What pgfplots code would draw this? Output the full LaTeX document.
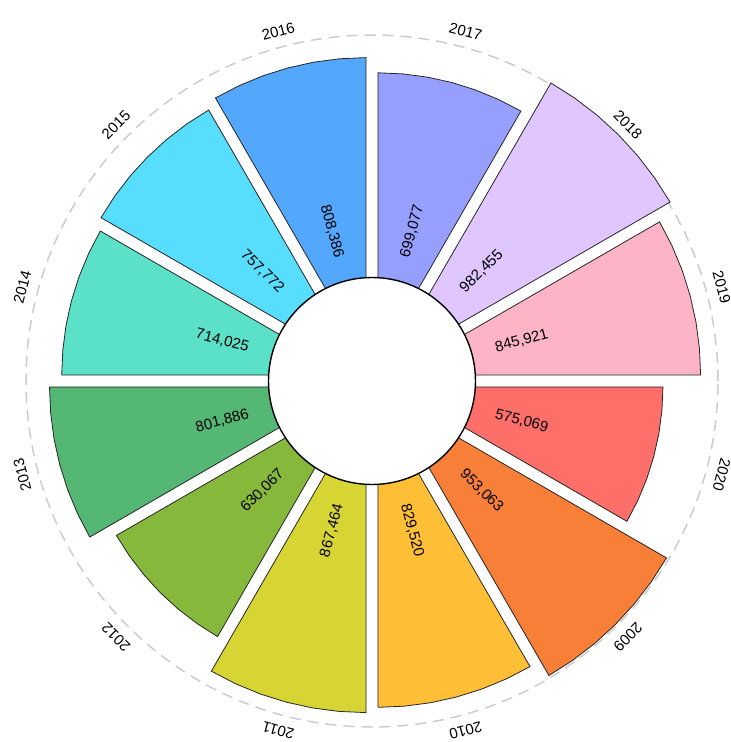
\documentclass[border=0pt]{standalone}
\usepackage{fontspec}
\setmainfont{Liberation Sans}
\usepackage{pgfplots}
\pgfplotsset{compat=1.18}
\usepgfplotslibrary{polar}
\definecolor{c2009}{HTML}{F87F38}
\definecolor{c2010}{HTML}{FEBE35}
\definecolor{c2011}{HTML}{D7D533}
\definecolor{c2012}{HTML}{86B83B}
\definecolor{c2013}{HTML}{54B773}
\definecolor{c2014}{HTML}{5BE1C7}
\definecolor{c2015}{HTML}{57DDFD}
\definecolor{c2016}{HTML}{53A7FD}
\definecolor{c2017}{HTML}{979FFE}
\definecolor{c2018}{HTML}{DFC6FE}
\definecolor{c2019}{HTML}{FEB4C7}
\definecolor{c2020}{HTML}{FF6F69}
\begin{document}
\begin{tikzpicture}[font=\fontsize{15}{18}\selectfont]
\begin{polaraxis}[
  scale only axis, width=692pt, height=692pt,
  xmin=0, xmax=360, ymin=-1358.3, ymax=1130.9,
  y coord trafo/.code={\pgfmathparse{#1+1358.3}},
  y coord inv trafo/.code={\pgfmathparse{#1-1358.3}},
  hide axis, clip=false, xtick=\empty, ytick=\empty,
  enlargelimits=false,
  bar/.style={draw=black!85, line width=0.8pt, line join=miter},
]
\coordinate (C) at (axis cs:0,-1358.3);
\draw[black!20, line width=1.5pt, dash pattern=on 11pt off 7pt] (C) circle[radius=346pt];
% values in thousands
\addplot[bar, fill=c2009, shift={(315:23pt)}] coordinates {(300,-1358.3) (300,953.063) (305,953.063) (310,953.063) (315,953.063) (320,953.063) (325,953.063) (330,953.063)} -- cycle;
\addplot[bar, fill=c2010, shift={(285:23pt)}] coordinates {(270,-1358.3) (270,829.520) (275,829.520) (280,829.520) (285,829.520) (290,829.520) (295,829.520) (300,829.520)} -- cycle;
\addplot[bar, fill=c2011, shift={(255:23pt)}] coordinates {(240,-1358.3) (240,867.464) (245,867.464) (250,867.464) (255,867.464) (260,867.464) (265,867.464) (270,867.464)} -- cycle;
\addplot[bar, fill=c2012, shift={(225:23pt)}] coordinates {(210,-1358.3) (210,630.067) (215,630.067) (220,630.067) (225,630.067) (230,630.067) (235,630.067) (240,630.067)} -- cycle;
\addplot[bar, fill=c2013, shift={(195:23pt)}] coordinates {(180,-1358.3) (180,801.886) (185,801.886) (190,801.886) (195,801.886) (200,801.886) (205,801.886) (210,801.886)} -- cycle;
\addplot[bar, fill=c2014, shift={(165:23pt)}] coordinates {(150,-1358.3) (150,714.025) (155,714.025) (160,714.025) (165,714.025) (170,714.025) (175,714.025) (180,714.025)} -- cycle;
\addplot[bar, fill=c2015, shift={(135:23pt)}] coordinates {(120,-1358.3) (120,757.772) (125,757.772) (130,757.772) (135,757.772) (140,757.772) (145,757.772) (150,757.772)} -- cycle;
\addplot[bar, fill=c2016, shift={(105:23pt)}] coordinates {(90,-1358.3) (90,808.386) (95,808.386) (100,808.386) (105,808.386) (110,808.386) (115,808.386) (120,808.386)} -- cycle;
\addplot[bar, fill=c2017, shift={(75:23pt)}] coordinates {(60,-1358.3) (60,699.077) (65,699.077) (70,699.077) (75,699.077) (80,699.077) (85,699.077) (90,699.077)} -- cycle;
\addplot[bar, fill=c2018, shift={(45:23pt)}] coordinates {(30,-1358.3) (30,982.455) (35,982.455) (40,982.455) (45,982.455) (50,982.455) (55,982.455) (60,982.455)} -- cycle;
\addplot[bar, fill=c2019, shift={(15:23pt)}] coordinates {(0,-1358.3) (0,845.921) (5,845.921) (10,845.921) (15,845.921) (20,845.921) (25,845.921) (30,845.921)} -- cycle;
\addplot[bar, fill=c2020, shift={(345:23pt)}] coordinates {(330,-1358.3) (330,575.069) (335,575.069) (340,575.069) (345,575.069) (350,575.069) (355,575.069) (360,575.069)} -- cycle;
\draw[black, line width=1.4pt, fill=white] (C) circle[radius=103.5pt];
% value labels
\node[rotate=-45] at (axis cs:315,-243.2) {953,063};
\node[rotate=-75] at (axis cs:285,-243.2) {829,520};
\node[rotate=75]  at (axis cs:255,-243.2) {867,464};
\node[rotate=45]  at (axis cs:225,-243.2) {630,067};
\node[rotate=15]  at (axis cs:195,-243.2) {801,886};
\node[rotate=-15] at (axis cs:165,-243.2) {714,025};
\node[rotate=-45] at (axis cs:135,-243.2) {757,772};
\node[rotate=-75] at (axis cs:105,-243.2) {808,386};
\node[rotate=75]  at (axis cs:75,-243.2) {699,077};
\node[rotate=45]  at (axis cs:45,-243.2) {982,455};
\node[rotate=15]  at (axis cs:15,-243.2) {845,921};
\node[rotate=-15] at (axis cs:345,-243.2) {575,069};
% year labels
\node[rotate=225] at (axis cs:315,1246) {2009};
\node[rotate=195] at (axis cs:285,1246) {2010};
\node[rotate=165] at (axis cs:255,1246) {2011};
\node[rotate=135] at (axis cs:225,1246) {2012};
\node[rotate=105] at (axis cs:195,1246) {2013};
\node[rotate=75]  at (axis cs:165,1246) {2014};
\node[rotate=45]  at (axis cs:135,1246) {2015};
\node[rotate=15]  at (axis cs:105,1246) {2016};
\node[rotate=-15] at (axis cs:75,1246) {2017};
\node[rotate=-45] at (axis cs:45,1246) {2018};
\node[rotate=-75] at (axis cs:15,1246) {2019};
\node[rotate=255] at (axis cs:345,1246) {2020};
\end{polaraxis}
\pgfresetboundingbox
\path[use as bounding box] (C) ++(-372pt,-361pt) rectangle ++(731pt,742pt);
\end{tikzpicture}
\end{document}
